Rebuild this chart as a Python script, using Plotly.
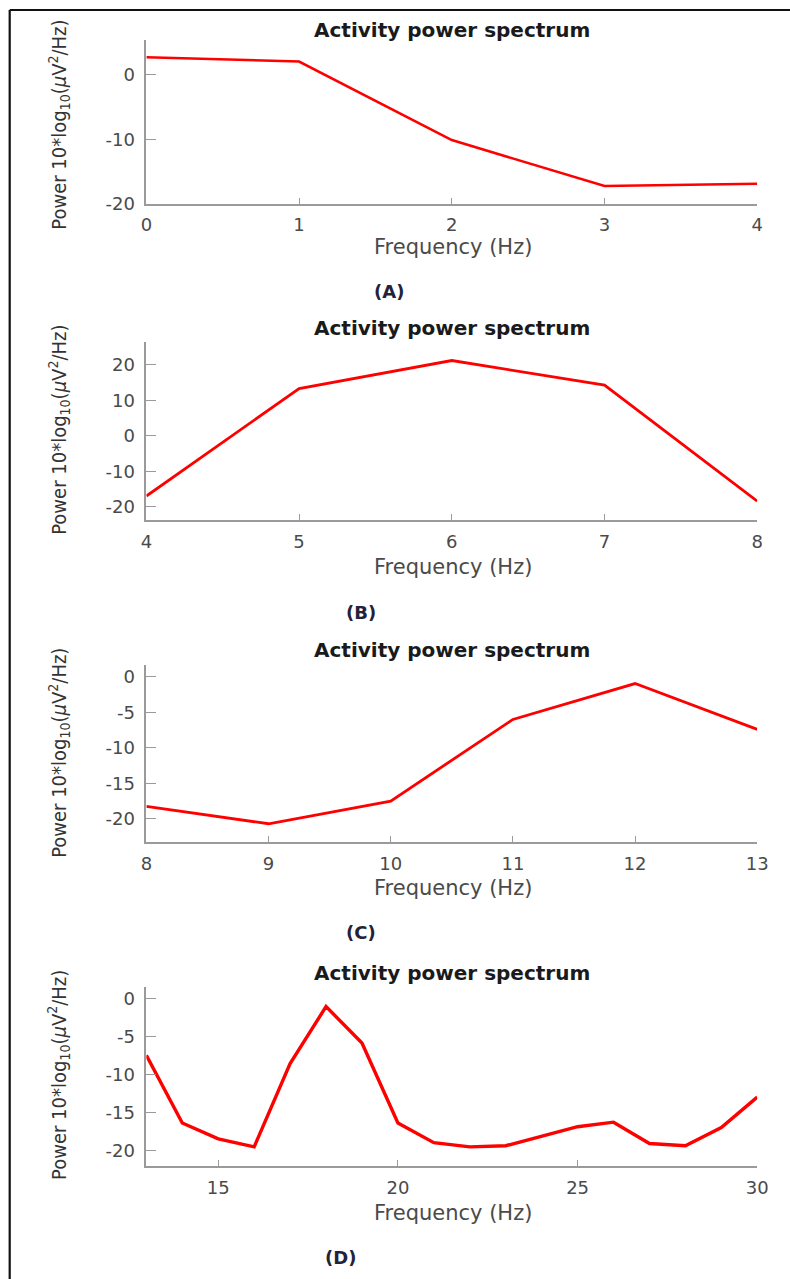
import plotly.graph_objects as go

W, H = 790, 1279
# the rendered page comes out slightly shrunk, so layout positions are mapped through this
SX, OX, SY = 0.979, 5.3, 0.992
FW, FH = 802, 1289

# Spectrum data per band
freq_a = [0, 1, 2, 3, 4]
power_a = [2.74, 2.07, -10.1, -17.2, -16.85]

freq_b = [4, 5, 6, 7, 8]
power_b = [-16.95, 13.3, 21.2, 14.3, -18.4]

freq_c = [8, 9, 10, 11, 12, 13]
power_c = [-18.26, -20.7, -17.5, -6.0, -0.94, -7.4]

freq_d = [13, 14, 15, 16, 17, 18, 19, 20, 21, 22, 23, 24, 25, 26, 27, 28, 29, 30]
power_d = [-7.5, -16.4, -18.5, -19.55, -8.6, -1.1, -5.9, -16.4, -19.0, -19.55,
           -19.4, -18.1, -16.9, -16.3, -19.1, -19.4, -17.0, -13.0]

ticks_a_x = [0, 1, 2, 3, 4]
ticks_a_y = [-20, -10, 0]
ticks_b_x = [4, 5, 6, 7, 8]
ticks_b_y = [-20, -10, 0, 10, 20]
ticks_c_x = [8, 9, 10, 11, 12, 13]
ticks_c_y = [-20, -15, -10, -5, 0]
ticks_d_x = [15, 20, 25, 30]
ticks_d_y = [-20, -15, -10, -5, 0]

panel_labels = ["(A)", "(B)", "(C)", "(D)"]
title_text = "Activity power spectrum"
xlabel_text = "Frequency (Hz)"
ylabel_text = "Power 10*log<sub>10</sub>(<i>μ</i>V<sup>2</sup>/Hz)"


def px(x):
    return ((x - OX) / SX) / FW


def py(y):
    return 1 - (y / SY) / FH


# panel geometry in page pixels
panels = [
    dict(f=freq_a, p=power_a, tx=ticks_a_x, ty=ticks_a_y, top=40, bot=204,
         xr=[0, 4], yr=[-20, 5.4], ty_pos=30, xl_y=247, tag_x=388, tag_y=291, yl_y=125, lw=2.6),
    dict(f=freq_b, p=power_b, tx=ticks_b_x, ty=ticks_b_y, top=342, bot=520,
         xr=[4, 8], yr=[-23.75, 26.4], ty_pos=328, xl_y=567, tag_x=360, tag_y=612, yl_y=430, lw=2.8),
    dict(f=freq_c, p=power_c, tx=ticks_c_x, ty=ticks_c_y, top=665, bot=842,
         xr=[8, 13], yr=[-23.3, 1.65], ty_pos=650, xl_y=888, tag_x=360, tag_y=932, yl_y=753, lw=2.8),
    dict(f=freq_d, p=power_d, tx=ticks_d_x, ty=ticks_d_y, top=987, bot=1166,
         xr=[13, 30], yr=[-22.1, 1.44], ty_pos=973, xl_y=1213, tag_x=340, tag_y=1257, yl_y=1075, lw=3.4),
]

X0, X1 = 145.7, 756.7
AXIS_COLOR = "#9a9a9a"
TICK_FONT = dict(family="DejaVu Sans", size=18, color="#4a4a4a")

fig = go.Figure()
annotations = []

for i, pn in enumerate(panels):
    n = "" if i == 0 else str(i + 1)
    fig.add_trace(go.Scatter(
        x=pn["f"], y=pn["p"], mode="lines",
        line=dict(color="#ff0000", width=pn["lw"]),
        xaxis="x" + n, yaxis="y" + n, showlegend=False, cliponaxis=False,
    ))
    fig.layout["xaxis" + n] = dict(
        domain=[px(X0), px(X1)], anchor="y" + n, range=pn["xr"],
        tickvals=pn["tx"], ticktext=[str(v) for v in pn["tx"]],
        ticks="inside", ticklen=6, tickwidth=1.2,
        tickcolor=AXIS_COLOR, showline=True, linecolor=AXIS_COLOR, linewidth=1.6,
        showgrid=False, zeroline=False, tickfont=TICK_FONT, ticklabelstandoff=4,
    )
    fig.layout["yaxis" + n] = dict(
        domain=[py(pn["bot"]), py(pn["top"])], anchor="x" + n, range=pn["yr"],
        tickvals=pn["ty"], ticktext=[str(v) for v in pn["ty"]],
        ticks="inside", ticklen=10, tickwidth=1.2,
        tickcolor=AXIS_COLOR, showline=True, linecolor=AXIS_COLOR, linewidth=1.6,
        showgrid=False, zeroline=False, tickfont=TICK_FONT, ticklabelstandoff=6,
    )
    annotations.append(dict(
        text="<b>" + title_text + "</b>", x=px(451), y=py(pn["ty_pos"]),
        xref="paper", yref="paper", showarrow=False, xanchor="center", yanchor="middle",
        font=dict(family="DejaVu Sans", size=20, color="#1a1a1a"),
    ))
    annotations.append(dict(
        text=xlabel_text, x=px(452), y=py(pn["xl_y"]),
        xref="paper", yref="paper", showarrow=False, xanchor="center", yanchor="middle",
        font=dict(family="DejaVu Sans", size=21, color="#4a4a4a"),
    ))
    annotations.append(dict(
        text=ylabel_text, x=px(58), y=py(pn["yl_y"]), textangle=-90,
        xref="paper", yref="paper", showarrow=False, xanchor="center", yanchor="middle",
        font=dict(family="DejaVu Sans Condensed, Liberation Sans", size=20, color="#333333"),
    ))
    annotations.append(dict(
        text="<b>" + panel_labels[i] + "</b>", x=px(pn["tag_x"]), y=py(pn["tag_y"]),
        xref="paper", yref="paper", showarrow=False, xanchor="center", yanchor="middle",
        font=dict(family="DejaVu Sans", size=18, color="#22223a"),
    ))

fig.update_layout(
    width=FW, height=FH,
    margin=dict(l=0, r=0, t=0, b=0),
    paper_bgcolor="white", plot_bgcolor="white",
    annotations=annotations,
    shapes=[
        dict(type="line", xref="paper", yref="paper",
             x0=px(9), y0=py(10), x1=1.0, y1=py(10),
             line=dict(color="#111111", width=2.2)),
        dict(type="line", xref="paper", yref="paper",
             x0=px(9), y0=py(10), x1=px(9), y1=0.0,
             line=dict(color="#111111", width=2.2)),
    ],
)

fig.write_html("out.html")
